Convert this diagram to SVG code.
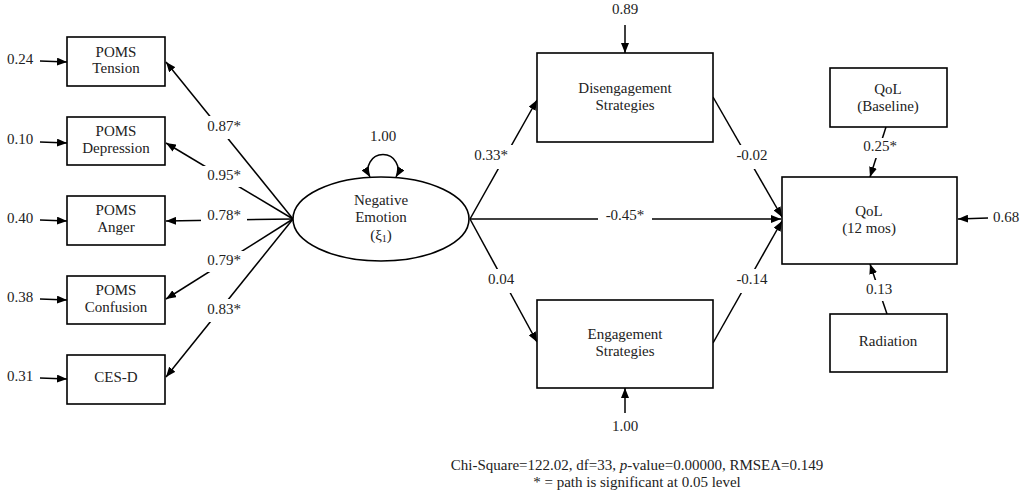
<svg xmlns="http://www.w3.org/2000/svg" width="1024" height="496" viewBox="0 0 1024 496">
<defs>
<marker id="ah" markerUnits="userSpaceOnUse" markerWidth="10" markerHeight="8" refX="10" refY="4" orient="auto-start-reverse">
<path d="M0,0 L10,4 L0,8 z" fill="#000"/>
</marker>
<style>
text{font-family:"Liberation Serif","Times New Roman",serif;font-size:15px;fill:#222;text-anchor:middle;dominant-baseline:middle}
.box{fill:#fff;stroke:#000;stroke-width:1.6}
.ln{stroke:#000;stroke-width:1.5;fill:none}
.ar{marker-end:url(#ah)}
.bg{fill:#fff}
</style>
</defs>
<rect width="1024" height="496" fill="#fff"/>
<g id="connectors">
<line class="ln ar" x1="293" y1="219" x2="166" y2="62"/>
<line class="ln ar" x1="293" y1="219" x2="166" y2="143"/>
<line class="ln ar" x1="293" y1="219" x2="166" y2="221"/>
<line class="ln ar" x1="293" y1="219" x2="166" y2="299"/>
<line class="ln ar" x1="293" y1="219" x2="166" y2="377"/>
<line class="ln ar" x1="40" y1="61" x2="67" y2="62"/>
<line class="ln ar" x1="40" y1="142" x2="67" y2="143"/>
<line class="ln ar" x1="40" y1="220" x2="67" y2="221"/>
<line class="ln ar" x1="40" y1="299" x2="67" y2="300"/>
<line class="ln ar" x1="40" y1="378" x2="67" y2="379"/>
<path class="ln" d="M370 177 A15 15 0 1 1 396 177" marker-start="url(#ah)" marker-end="url(#ah)"/>
<line class="ln ar" x1="470" y1="219" x2="537" y2="100"/>
<line class="ln ar" x1="470" y1="219" x2="537" y2="342"/>
<line class="ln ar" x1="470" y1="219" x2="781" y2="219"/>
<line class="ln ar" x1="713" y1="97" x2="782" y2="217"/>
<line class="ln ar" x1="713" y1="343" x2="782" y2="221"/>
<line class="ln ar" x1="625" y1="25" x2="625" y2="53"/>
<line class="ln ar" x1="625" y1="413" x2="625" y2="388"/>
<line class="ln ar" x1="886" y1="127" x2="870" y2="177"/>
<line class="ln ar" x1="887" y1="314" x2="870" y2="264"/>
<line class="ln ar" x1="988" y1="218" x2="958" y2="219"/>
<rect class="bg" x="201" y="116" width="46" height="23"/><text x="224" y="128">0.87*</text>
<rect class="bg" x="201" y="166" width="46" height="21"/><text x="224" y="177">0.95*</text>
<rect class="bg" x="201" y="207" width="46" height="19"/><text x="224" y="217">0.78*</text>
<rect class="bg" x="201" y="251" width="46" height="21"/><text x="224" y="262">0.79*</text>
<rect class="bg" x="201" y="299" width="46" height="23"/><text x="224" y="311">0.83*</text>
<text x="383" y="138">1.00</text>
<rect class="bg" x="470" y="145" width="44" height="24"/><text x="491" y="157">0.33*</text>
<rect class="bg" x="482" y="269" width="38" height="24"/><text x="501" y="281">0.04</text>
<rect class="bg" x="598" y="207" width="54" height="20"/><text x="625" y="217">-0.45*</text>
<rect class="bg" x="731" y="145" width="42" height="24"/><text x="752" y="157">-0.02</text>
<rect class="bg" x="731" y="269" width="42" height="24"/><text x="752" y="281">-0.14</text>
<rect class="bg" x="860" y="138" width="40" height="20"/><text x="880" y="148">0.25*</text>
<rect class="bg" x="860" y="280" width="38" height="21"/><text x="879" y="291">0.13</text>
<text x="625" y="11">0.89</text>
<text x="625" y="428">1.00</text>
<text x="1006" y="219">0.68</text>
<text x="20" y="61">0.24</text>
<text x="20" y="141">0.10</text>
<text x="20" y="220">0.40</text>
<text x="20" y="299">0.38</text>
<text x="20" y="378">0.31</text>
</g>
<g id="poms-tension"><rect class="box" x="67" y="37" width="98" height="49"/><text x="116" y="54">POMS</text><text x="116" y="70">Tension</text></g>
<g id="poms-depression"><rect class="box" x="67" y="117" width="98" height="48"/><text x="116" y="133">POMS</text><text x="116" y="150">Depression</text></g>
<g id="poms-anger"><rect class="box" x="67" y="196" width="98" height="49"/><text x="116" y="212">POMS</text><text x="116" y="229">Anger</text></g>
<g id="poms-confusion"><rect class="box" x="67" y="276" width="98" height="48"/><text x="116" y="292">POMS</text><text x="116" y="309">Confusion</text></g>
<g id="ces-d"><rect class="box" x="67" y="355" width="98" height="49"/><text x="116" y="379">CES-D</text></g>
<g id="negative-emotion"><ellipse class="box" cx="381" cy="219" rx="88" ry="42"/><text x="381" y="202">Negative</text><text x="381" y="219">Emotion</text><text x="381" y="237">(ξ<tspan font-size="10" dy="3">1</tspan><tspan dy="-3">)</tspan></text></g>
<g id="disengagement"><rect class="box" x="537" y="53" width="176" height="89"/><text x="625" y="90">Disengagement</text><text x="625" y="107">Strategies</text></g>
<g id="engagement"><rect class="box" x="537" y="300" width="176" height="88"/><text x="625" y="336">Engagement</text><text x="625" y="353">Strategies</text></g>
<g id="qol-baseline"><rect class="box" x="830" y="68" width="117" height="59"/><text x="888" y="91">QoL</text><text x="888" y="108">(Baseline)</text></g>
<g id="qol-12"><rect class="box" x="782" y="177" width="175" height="87"/><text x="869" y="213">QoL</text><text x="869" y="230">(12 mos)</text></g>
<g id="radiation"><rect class="box" x="830" y="314" width="117" height="58"/><text x="888" y="343">Radiation</text></g>
<g id="footnote">
<text x="637" y="467">Chi-Square=122.02, df=33, <tspan font-style="italic">p</tspan>-value=0.00000, RMSEA=0.149</text>
<text x="637" y="484">* = path is significant at 0.05 level</text>
</g>
</svg>
